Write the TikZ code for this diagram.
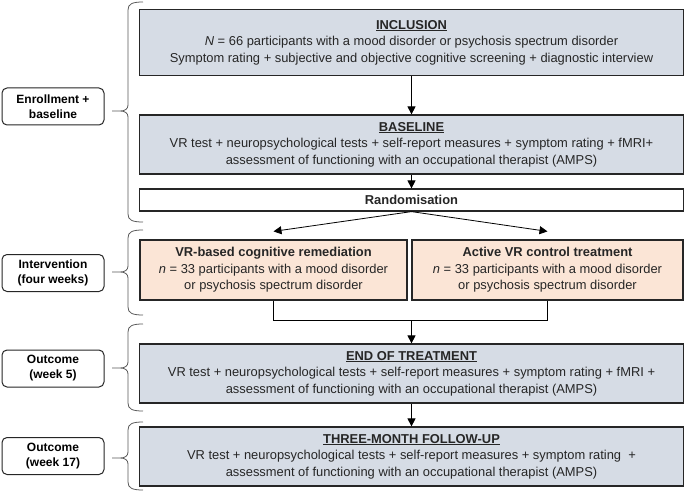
\documentclass[tikz,border=0pt]{standalone}
\usepackage{fontspec}
\setmainfont{Liberation Sans}
\usetikzlibrary{arrows.meta}

\definecolor{stagefill}{HTML}{D6DCE5}
\definecolor{armfill}{HTML}{FBE5D6}
\definecolor{edgecol}{HTML}{262626}
\definecolor{bracecol}{HTML}{595959}

% curly brace: top, tip, bottom (y in px)
\newcommand{\phasebrace}[3]{%
  \draw[bracecol, line width=0.8pt] (143,#1) .. controls (132,#1) and (128,#1+2) .. (128,#1+8)
    -- (128,#2-6) .. controls (128,#2-2) and (125,#2) .. (120,#2) -- (112,#2) -- (120,#2)
    .. controls (125,#2) and (128,#2+2) .. (128,#2+6) -- (128,#3-8)
    .. controls (128,#3-2) and (132,#3) .. (143,#3);}

\tikzset{
  stage/.style={draw=edgecol, line width=1.2pt, fill=stagefill, minimum width=544pt,
    minimum height=59pt, inner sep=0pt, align=center, text=black!85,
    font=\fontsize{12.9}{16.5}\selectfont},
  arm/.style={stage, fill=armfill, minimum width=267pt, minimum height=60pt},
  phase/.style={draw=edgecol, line width=1pt, rounded corners=5pt, fill=white,
    minimum width=102pt, minimum height=37pt, inner sep=0pt, align=center,
    font=\bfseries\fontsize{12}{15}\selectfont},
  flow/.style={-{Triangle[length=8pt,width=8pt]}, line width=0.8pt}
}

\begin{document}
\begin{tikzpicture}[x=1pt,y=-1pt]
\useasboundingbox (0,0) rectangle (685,492);

% main boxes
\node[stage, minimum height=66pt] (incl) at (411.5,42.5) {\underline{\textbf{INCLUSION}}\\
  \textit{N} = 66 participants with a mood disorder or psychosis spectrum disorder\\
  Symptom rating + subjective and objective cognitive screening + diagnostic interview};
\node[stage] (base) at (411.5,144.5) {\underline{\textbf{BASELINE}}\\
  VR test + neuropsychological tests + self-report measures + symptom rating + fMRI+\\
  assessment of functioning with an occupational therapist (AMPS)};
\node[stage, fill=white, minimum height=22pt] (rand) at (411.5,200) {\textbf{Randomisation}};
\node[arm] (vrcr) at (273.5,270) {\textbf{VR-based cognitive remediation}\\
  \textit{n} = 33 participants with a mood disorder\\ or psychosis spectrum disorder};
\node[arm, minimum width=271pt] (ctrl) at (547.5,270) {\textbf{Active VR control treatment}\\
  \textit{n} = 33 participants with a mood disorder\\ or psychosis spectrum disorder};
\node[stage] (eot) at (411.5,373.5) {\underline{\textbf{END OF TREATMENT}}\\
  VR test + neuropsychological tests + self-report measures + symptom rating + fMRI +\\
  assessment of functioning with an occupational therapist (AMPS)};
\node[stage] (fu) at (411.5,456.5) {\underline{\textbf{THREE-MONTH FOLLOW-UP}}\\
  VR test + neuropsychological tests + self-report measures + symptom rating~~+\\
  assessment of functioning with an occupational therapist (AMPS)};

% phase labels
\node[phase] (enr) at (53,106.5) {Enrollment +\\ baseline};
\node[phase] (intv) at (53,273) {Intervention\\ (four weeks)};
\node[phase] (out5) at (53,368.5) {Outcome\\ (week 5)};
\node[phase] (out17) at (53,456) {Outcome\\ (week 17)};

% braces
\phasebrace{2}{111}{222}
\phasebrace{230}{272}{315}
\phasebrace{324}{368}{411}
\phasebrace{422}{458}{490}

% arrows
\coordinate (join) at (411.5,320);
\draw[flow] (incl) -- (base);
\draw[flow] (base) -- (rand);
\draw[flow] (rand.south) -- ([yshift=8pt]vrcr.north);
\draw[flow] (rand.south) -- ([yshift=8pt]ctrl.north);
\draw[line width=0.8pt] (vrcr.south) -- (vrcr.south |- join) -| (ctrl.south);
\draw[flow] (join) -- (eot.north);
\draw[flow] (eot) -- (fu);

\end{tikzpicture}
\end{document}
